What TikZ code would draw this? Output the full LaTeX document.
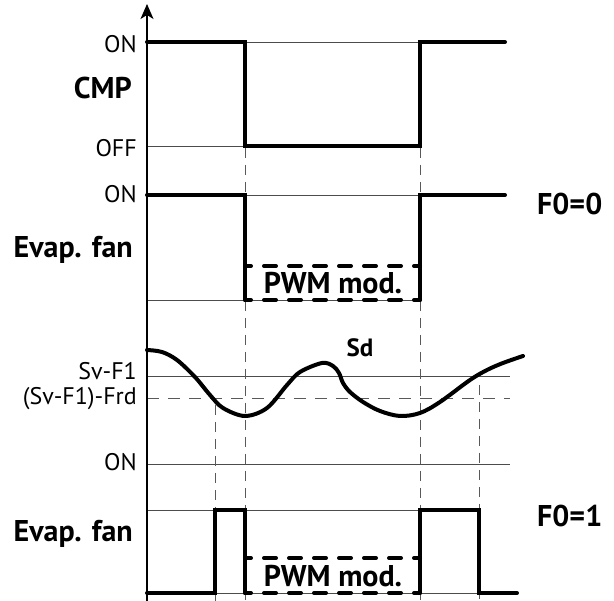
\documentclass[tikz,border=0pt]{standalone}
\usepackage{fontspec}
\setmainfont{PT Sans}
\usetikzlibrary{arrows.meta}
\begin{document}
\begin{tikzpicture}[x=1pt,y=-1pt,
  thinline/.style={line width=0.9pt, draw=black!70},
  vdash/.style={line width=0.9pt, draw=black!65, dash pattern=on 10pt off 7pt},
  hdash/.style={line width=0.9pt, draw=black!65, dash pattern=on 12pt off 9pt},
  signal/.style={line width=4pt, line cap=round, line join=miter},
  pwm/.style={line width=4pt, line cap=round, dash pattern=on 12pt off 13pt, dash phase=6pt},
  curve/.style={line width=4pt, line cap=round},
  lab/.style={inner sep=0pt, font=\fontsize{24}{27}\selectfont},
  blab/.style={inner sep=0pt, font=\fontsize{30}{34}\selectfont\bfseries},
  axisline/.style={line width=1.3pt, -{Stealth[length=15pt,width=13pt,inset=4pt]}}
]
\useasboundingbox (0,0) rectangle (614,601);

% thin horizontal reference lines
\draw[thinline] (147,42) -- (420,42);
\draw[thinline] (147,146) -- (420,146);
\draw[thinline] (147,195) -- (420,195);
\draw[thinline] (147,300) -- (420,300);
\draw[thinline] (147,376) -- (510,376);
\draw[hdash] (147,398) -- (510,398);
\draw[thinline] (147,464) -- (510,464);
\draw[thinline] (147,510) -- (479,510);
\draw[thinline] (147,593) -- (479,593);

% vertical dashed guides
\draw[vdash] (245,148) -- (245,601);
\draw[vdash] (420,148) -- (420,601);
\draw[vdash] (215,405) -- (215,601);
\draw[vdash] (479,385) -- (479,601);

% axis
\draw[axisline] (147,601) -- (147,4);

% CMP
\draw[signal] (147,42) -- (245,42) -- (245,146) -- (420,146) -- (420,42) -- (505,42);

% Evap fan F0=0
\draw[signal] (147,195) -- (245,195) -- (245,300);
\draw[signal] (420,300) -- (420,195) -- (505,195);
\draw[pwm] (245,266) -- (420,266);
\draw[pwm] (245,300) -- (420,300);

% Sd curve
\draw[curve] plot[smooth, tension=0.55] coordinates {
  (147,350) (162,352) (177,360) (195,377) (210,395) (223,408) (245,416)
  (267,408) (287,385) (300,372) (322,363) (333,366) (339,373) (343,383)
  (350,392) (363,402) (380,411) (400,416) (420,413) (440,402) (470,380)
  (487,370) (503,363) (523,356)};

% Evap fan F0=1
\draw[signal] (147,593) -- (215,593) -- (215,510) -- (245,510) -- (245,593);
\draw[signal] (420,593) -- (420,510) -- (479,510) -- (479,593) -- (517,593);
\draw[pwm] (245,558) -- (420,558);
\draw[pwm] (245,593) -- (420,593);

% labels
\node[lab, anchor=base east] (on1) at (137,53) {ON};
\node[blab, anchor=base east] (cmp) at (132,99) {CMP};
\node[lab, anchor=base east] (off1) at (137,157) {OFF};
\node[lab, anchor=base east] (on2) at (137,203) {ON};
\node[blab, anchor=base east] (fan1) at (133,258) {Evap. fan};
\node[blab, anchor=base] (pwm1) at (333,294) {PWM mod.};
\node[blab, anchor=base west] (f00) at (537,215) {F0=0};
\node[blab, anchor=base, font=\fontsize{25}{29}\selectfont\bfseries] (sd) at (360,357) {Sd};
\node[lab, anchor=base east] (sv) at (137,380) {Sv-F1};
\node[lab, anchor=base east] (frd) at (137,405) {(Sv-F1)-Frd};
\node[lab, anchor=base east] (on3) at (137,471) {ON};
\node[blab, anchor=base east] (fan2) at (133,542) {Evap. fan};
\node[blab, anchor=base] (pwm2) at (333,587) {PWM mod.};
\node[blab, anchor=base west] (f01) at (537,527) {F0=1};
\end{tikzpicture}
\end{document}
